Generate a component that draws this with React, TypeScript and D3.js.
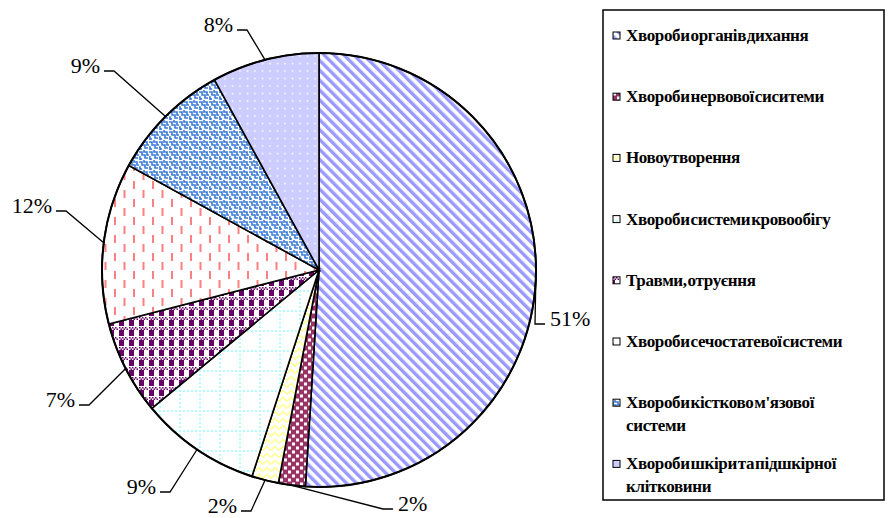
import React from 'react';
import * as d3 from 'd3';

// slices, clockwise from 12 o'clock
const categories = [
  'Хвороби органів дихання',
  'Хвороби нервової сиситеми',
  'Новоутворення',
  'Хвороби системи кровообігу',
  'Травми, отруєння',
  'Хвороби сечостатевої системи',
  "Хвороби кістково м'язової системи",
  'Хвороби шкіри та підшкірної клітковини',
];
const shares = [51, 2, 2, 9, 7, 12, 9, 8];
const legendLines = [
  ['Хвороби органів дихання'],
  ['Хвороби нервової сиситеми'],
  ['Новоутворення'],
  ['Хвороби системи кровообігу'],
  ['Травми, отруєння'],
  ['Хвороби сечостатевої системи'],
  ["Хвороби кістково м'язової", 'системи'],
  ['Хвороби шкіри та підшкірної', 'клітковини'],
];

// layout: where Excel put the percentage labels (text edge next to leader, baseline)
const labelAnchors: [number, number][] = [
  [550, 326],
  [398, 511],
  [237, 513],
  [156, 494],
  [75, 407],
  [52, 213],
  [100, 73],
  [233, 32],
];

const W = 889;
const H = 518;
const cx = 319;
const cy = 270;
const R = 217;
const serif = 'Liberation Serif, Times New Roman, serif';

const Patterns = () => (
  <defs>
    <pattern id="p0" patternUnits="userSpaceOnUse" width="7" height="7" patternTransform="rotate(-45)">
      <rect width="7" height="7" fill="#fff" />
      <rect width="3.4" height="7" fill="#9999ff" />
    </pattern>
    <pattern id="p1" patternUnits="userSpaceOnUse" width="8" height="8">
      <rect width="8" height="8" fill="#993366" />
      <rect x="1" y="0.5" width="3" height="3" fill="#fff" />
      <rect x="5" y="4.5" width="3" height="3" fill="#fff" />
    </pattern>
    <pattern id="p2" patternUnits="userSpaceOnUse" width="8" height="7">
      <rect width="8" height="7" fill="#fff" />
      <path d="M0,5.5 L4,1.5 L8,5.5" fill="none" stroke="#ffff99" strokeWidth="1.6" />
    </pattern>
    <pattern id="p3" patternUnits="userSpaceOnUse" width="20" height="20">
      <rect width="20" height="20" fill="#fff" />
      <line x1="0" y1="1" x2="20" y2="1" stroke="#b3ffff" strokeWidth="2" strokeDasharray="2 2" />
      <line x1="1" y1="0" x2="1" y2="20" stroke="#b3ffff" strokeWidth="2" strokeDasharray="2 2" />
    </pattern>
    <pattern id="p4" patternUnits="userSpaceOnUse" width="10" height="10">
      <rect width="10" height="10" fill="#fff" />
      <rect x="0" y="0" width="5" height="6" fill="#660066" />
      <rect x="0" y="7" width="1.5" height="1.5" fill="#660066" />
      <rect x="3" y="7" width="1.5" height="1.5" fill="#660066" />
      <rect x="6" y="7" width="1.5" height="1.5" fill="#660066" />
      <rect x="1.5" y="8.5" width="1.5" height="1.5" fill="#660066" />
      <rect x="4.5" y="8.5" width="1.5" height="1.5" fill="#660066" />
      <rect x="7.5" y="8.5" width="1.5" height="1.5" fill="#660066" />
    </pattern>
    <pattern id="p5" patternUnits="userSpaceOnUse" width="19" height="18">
      <rect width="19" height="18" fill="#fff" />
      <rect x="4" y="1" width="2" height="8" fill="#ff8080" />
      <rect x="13.5" y="10" width="2" height="8" fill="#ff8080" />
    </pattern>
    <pattern id="p6" patternUnits="userSpaceOnUse" width="10" height="10">
      <rect width="10" height="10" fill="#fff" />
      <path
        d="M0,2 H3 V5 H6 V8 H9 M5,0 V2 H8 V5 H10 M0,7 H1 V10 M2,10 V8"
        fill="none"
        stroke="#3a7bd5"
        strokeWidth="1.6"
      />
    </pattern>
    <pattern id="p7" patternUnits="userSpaceOnUse" width="7.5" height="7.5">
      <rect width="7.5" height="7.5" fill="#ccccff" />
      <circle cx="3.5" cy="3.5" r="0.9" fill="#fff" />
    </pattern>
  </defs>
);

const App = () => {
  const pie = d3
    .pie<number>()
    .sort(null)
    .value((d) => d);
  const arcs = pie(shares);
  const arc = d3.arc<d3.PieArcDatum<number>>().innerRadius(0).outerRadius(R);
  const edge = d3.arc<d3.PieArcDatum<number>>().innerRadius(R).outerRadius(R);

  return (
    <svg width={W} height={H} style={{ position: 'absolute', left: 0, top: 0, background: '#fff' }}>
      <Patterns />
      <g transform={`translate(${cx},${cy})`}>
        {arcs.map((a, i) => (
          <path key={categories[i]} d={arc(a) || ''} fill={`url(#p${i})`} stroke="#000" strokeWidth={1.6} />
        ))}
        <circle r={R} fill="none" stroke="#000" strokeWidth={2} />
      </g>

      {arcs.map((a, i) => {
        const [ex, ey] = edge.centroid(a);
        const sx = cx + ex;
        const sy = cy + ey;
        const [lx, ly] = labelAnchors[i];
        const right = lx > cx;
        const lineY = ly - 2;
        const end = right ? lx - 5 : lx + 4;
        const elbow = right ? lx - 15 : lx + 14;
        return (
          <g key={'lab' + i}>
            <polyline
              points={`${sx},${sy} ${elbow},${lineY} ${end},${lineY}`}
              fill="none"
              stroke="#000"
              strokeWidth={1.3}
            />
            <text
              x={lx}
              y={ly}
              textAnchor={right ? 'start' : 'end'}
              fontFamily={serif}
              fontSize={22}
              fill="#000"
            >
              {d3.format('.0%')(a.data / 100)}
            </text>
          </g>
        );
      })}

      <rect x={603} y={10} width={281} height={490} fill="#fff" stroke="#000" strokeWidth={1.5} />
      {legendLines.map((lines, i) => {
        const y = 36 + i * 61.2;
        return (
          <g key={'leg' + i}>
            <rect x={613} y={y - 4} width={7} height={7} fill={`url(#p${i})`} stroke="#000" strokeWidth={1} />
            {lines.map((t, j) => (
              <text
                key={t}
                x={626}
                y={y + 5 + j * 23}
                fontFamily={serif}
                fontWeight="bold"
                fontSize={17}
                wordSpacing={-3}
                letterSpacing={-0.35}
                fill="#000"
              >
                {t}
              </text>
            ))}
          </g>
        );
      })}
    </svg>
  );
};

export default App;
